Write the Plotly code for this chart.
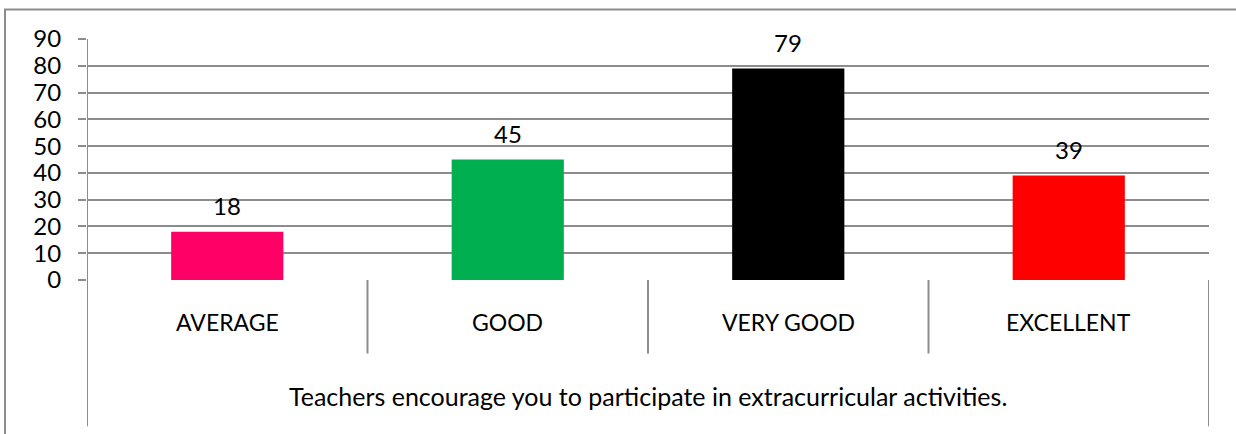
import plotly.graph_objects as go

categories = ["AVERAGE", "GOOD", "VERY GOOD", "EXCELLENT"]
values = [18, 45, 79, 39]
colors = ["#FF0066", "#00B050", "#000000", "#FF0000"]
group_label = "Teachers encourage you to participate in extracurricular activities."
y_ticks = [0, 10, 20, 30, 40, 50, 60, 70, 80, 90]

W, H = 1236, 434
L, R, T, B = 87, 27, 38.5, 153.7
pw, ph = W - L - R, H - T - B

def px2paper_y(py):
    return (H - B - py) / ph

def px2paper_x(px):
    return (px - L) / pw

FONT = "Lato"
GRID = "#8c8c8c"

fig = go.Figure()
fig.add_trace(go.Bar(x=list(range(len(categories))), y=values, marker_color=colors,
                     marker_line_width=0, width=0.4, hoverinfo="skip"))

for i, v in enumerate(values):
    fig.add_annotation(x=i, y=v, text=str(v), showarrow=False, yshift=26,
                       xanchor="center", yanchor="middle",
                       font=dict(family=FONT, size=24, color="black"))
    fig.add_annotation(x=i, y=px2paper_y(322), yref="paper", text=categories[i],
                       showarrow=False, xanchor="center", yanchor="middle",
                       font=dict(family=FONT, size=23, color="black"))

fig.add_annotation(x=1.5, y=px2paper_y(397), yref="paper", text=group_label,
                   showarrow=False, xanchor="center", yanchor="middle",
                   font=dict(family=FONT, size=25, color="black"))

line = dict(color=GRID, width=2)
# category dividers
for d in [0.5, 1.5, 2.5]:
    fig.add_shape(type="line", xref="x", yref="paper", x0=d, x1=d,
                  y0=0, y1=px2paper_y(354), line=line)
# right side of category table
fig.add_shape(type="line", xref="x", yref="paper", x0=3.5, x1=3.5,
              y0=0, y1=px2paper_y(427), line=line)
# left axis extended
fig.add_shape(type="line", xref="x", yref="paper", x0=-0.5, x1=-0.5,
              y0=1, y1=px2paper_y(427), line=line)
# outer chart border
fig.add_shape(type="rect", xref="paper", yref="paper",
              x0=px2paper_x(5), x1=px2paper_x(1245),
              y0=px2paper_y(445), y1=px2paper_y(9), line=line)

fig.update_layout(
    width=W, height=H,
    margin=dict(l=L, r=R, t=T, b=B),
    plot_bgcolor="white", paper_bgcolor="white",
    showlegend=False,
    font=dict(family=FONT, size=24, color="black"),
)
fig.update_xaxes(range=[-0.5, 3.5], showticklabels=False, showgrid=False,
                 zeroline=False, showline=False, ticks="")
fig.update_yaxes(range=[0, 90], tickvals=y_ticks, showgrid=True, gridcolor=GRID,
                 gridwidth=2, zeroline=False, showline=False, ticks="outside",
                 ticklen=8, tickcolor=GRID, tickwidth=2, ticklabelstandoff=12,
                 tickfont=dict(family=FONT, size=24, color="black"))

fig.write_html("out.html", config={"displayModeBar": False},
               post_script="document.body.style.margin='0';")
